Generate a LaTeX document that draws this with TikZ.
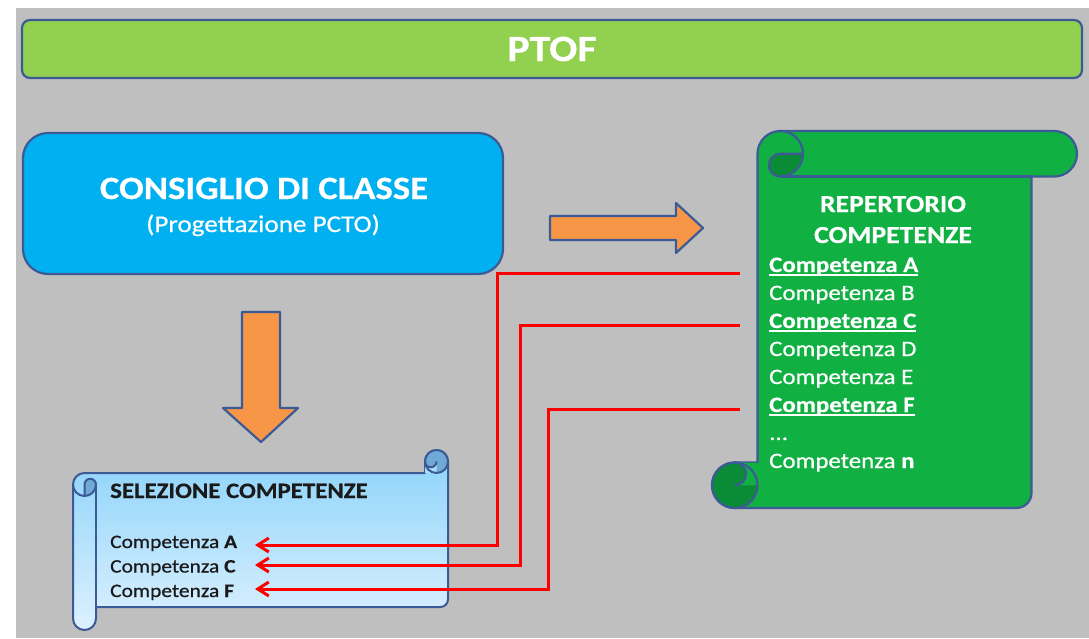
\documentclass[tikz,border=0pt]{standalone}
\usepackage{fontspec}
\setmainfont[FakeStretch=1.13, UprightFeatures={FakeBold=0.6}, BoldFeatures={FakeBold=0.5}]{Carlito}
\usetikzlibrary{arrows.meta}
\definecolor{bggray}{HTML}{BFBFBF}
\definecolor{ptofgreen}{HTML}{92D050}
\definecolor{bordblue}{HTML}{3C5A96}
\definecolor{cdcblue}{HTML}{00B0F0}
\definecolor{arrorange}{HTML}{F79646}
\definecolor{repgreen}{HTML}{10B043}
\definecolor{repdark}{HTML}{0A8B35}
\definecolor{seltop}{HTML}{8CD3FA}
\definecolor{selbot}{HTML}{DDF1FF}
\definecolor{selmid}{HTML}{A8DDFB}
\definecolor{seldark}{HTML}{6FAAD6}
\definecolor{redconn}{HTML}{FF0000}
\definecolor{seltext}{HTML}{1A1A1A}

\newcommand{\myul}[1]{\setbox0\hbox{#1}\rlap{\rule[-3.5pt]{\wd0}{1.6pt}}\box0}

\newcommand{\scrollout}{(\sC,-\sR) arc[start angle=180,end angle=90,radius=\sR] -- ({\sW-\sR},0) arc[start angle=90,end angle=-90,radius=\sR] -- ({\sW-\sC},-\sC) -- ({\sW-\sC},{-(\sH-\sK)}) arc[start angle=0,end angle=-90,radius=\sK] -- (\sR,-\sH) arc[start angle=-90,end angle=-270,radius=\sR] -- (\sC,{-(\sH-\sC)}) -- cycle}

\newcommand{\drawscroll}[7]{%
  \pgfmathsetmacro\sW{#1}\pgfmathsetmacro\sH{#2}\pgfmathsetmacro\sC{#3}%
  \pgfmathsetmacro\sR{\sC/2}\pgfmathsetmacro\sQ{\sC/4}\pgfmathsetmacro\sK{\sC/3}%
  \begin{scope}\clip \scrollout; #4 \end{scope}
  \draw[bord,line width=#7] \scrollout;
  \fill[#5] (\sR,{-(\sH-\sR)}) circle[radius=\sR];
  \fill[#6] (\sR,{-(\sH-\sC)}) -- (\sC,{-(\sH-\sC)}) -- (\sC,{-(\sH-\sR)}) -- (\sR,{-(\sH-\sR)}) arc[start angle=-90,end angle=90,radius=\sQ] -- cycle;
  \draw[bord,line width=#7] (\sR,{-(\sH-\sR)}) circle[radius=\sR];
  \draw[bord,line width=#7] (\sR,{-(\sH-\sR)}) arc[start angle=-90,end angle=90,radius=\sQ];
  \filldraw[bord,line width=#7,fill=#5] ({2*\sC},-\sR) -- ({\sC+\sR},-\sR) arc[start angle=90,end angle=270,radius=\sQ] arc[start angle=-90,end angle=0,radius=\sR] -- cycle;
  \draw[bord,line width=#7] ({2*\sC},-\sR) arc[start angle=0,end angle=90,radius=\sR];
  \draw[bord,line width=#7] ({\sC+\sR},-\sC) -- ({\sW-\sC},-\sC);
}

\tikzset{
  bord/.style={draw=bordblue, line width=2.2pt, line join=round},
  blockarrow/.style={bord, fill=arrorange},
  redline/.style={draw=redconn, line width=3pt, line join=miter, -{Straight Barb[length=11pt,width=14pt]}},
  repitem/.style={anchor=base west, inner sep=0pt, text=white, font=\fontsize{22}{26}\selectfont},
  selitem/.style={anchor=base west, inner sep=0pt, text=seltext, font=\fontsize{19}{23}\selectfont},
}

\begin{document}
\begin{tikzpicture}[x=1pt,y=1pt]
\useasboundingbox (0,0) rectangle (1089,-638);
\fill[white] (0,0) rectangle (1089,-638);
\fill[bggray] (16,-8) rectangle (1089,-638);

% PTOF bar
\node[bord, fill=ptofgreen, rounded corners=8pt, minimum width=1060pt, minimum height=58pt, inner sep=0pt,
      text=white, font=\bfseries\fontsize{37}{40}\selectfont] (ptof) at (552,-49) {PTOF};

% Consiglio di classe
\node[bord, fill=cdcblue, rounded corners=25pt, minimum width=480pt, minimum height=141pt, inner sep=0pt] (cdc) at (263,-203.5) {};
\node[anchor=base, inner sep=0pt, text=white, font=\bfseries\fontsize{32.5}{36}\selectfont] (cdc1) at (264,-199) {CONSIGLIO DI CLASSE};
\node[anchor=base, inner sep=0pt, text=white, font=\fontsize{24}{28}\selectfont] (cdc2) at (263,-232) {(Progettazione PCTO)};

% block arrows
\draw[blockarrow] (550,-216) -- (676,-216) -- (676,-203) -- (703,-228) -- (676,-253) -- (676,-240) -- (550,-240) -- cycle;
\draw[blockarrow] (242,-312) -- (280,-312) -- (280,-408) -- (298,-408) -- (261,-442) -- (223,-408) -- (242,-408) -- cycle;

% Repertorio scroll
\begin{scope}[shift={(712,-131)}]
  \drawscroll{365}{377}{45.5}{\fill[repgreen] (-5,5) rectangle ({\sW+5},{-\sH-5});}{repdark}{repgreen}{2.2pt}
\end{scope}
\node[anchor=base, inner sep=0pt, text=white, font=\bfseries\fontsize{24.5}{28}\selectfont] (rep1) at (893,-212) {REPERTORIO};
\node[anchor=base, inner sep=0pt, text=white, font=\bfseries\fontsize{24.5}{28}\selectfont] (rep2) at (893,-243) {COMPETENZE};
\node[repitem] (rA) at (769,-272) {\bfseries\myul{Competenza A}};
\node[repitem] (rB) at (769,-300) {Competenza B};
\node[repitem] (rC) at (769,-328) {\bfseries\myul{Competenza C}};
\node[repitem] (rD) at (769,-356) {Competenza D};
\node[repitem] (rE) at (769,-384) {Competenza E};
\node[repitem] (rF) at (769,-412) {\bfseries\myul{Competenza F}};
\node[repitem] (rdots) at (769,-440) {...};
\node[repitem] (rN) at (769,-468) {Competenza \textbf{n}};

% Selezione scroll
\begin{scope}[shift={(73,-450)}, cm={0,-1,-1,0,(0,0)}]
  \drawscroll{180}{375}{23}{\shade[reset cm, top color=seltop, bottom color=selbot] (73,-450) rectangle (448,-630);}{seldark}{selmid}{2pt}
\end{scope}
\node[anchor=base west, inner sep=0pt, text=seltext, font=\bfseries\fontsize{22}{26}\selectfont] (selh) at (110,-498) {SELEZIONE COMPETENZE};
\node[selitem] (sA) at (110,-548) {Competenza \textbf{A}};
\node[selitem] (sC) at (110,-572.5) {Competenza \textbf{C}};
\node[selitem] (sF) at (110,-597) {Competenza \textbf{F}};

% red connectors
\coordinate (gA) at (740,-273);
\coordinate (gC) at (740,-325);
\coordinate (gF) at (740,-409);
\coordinate (kA) at (497,-273);
\coordinate (kC) at (520,-325);
\coordinate (kF) at (548,-409);
\coordinate (tA) at (255,-545);
\coordinate (tC) at (255,-565);
\coordinate (tF) at (255,-589);
\draw[redline] (gA) -- (kA) |- (tA);
\draw[redline] (gC) -- (kC) |- (tC);
\draw[redline] (gF) -- (kF) |- (tF);
\end{tikzpicture}
\end{document}
